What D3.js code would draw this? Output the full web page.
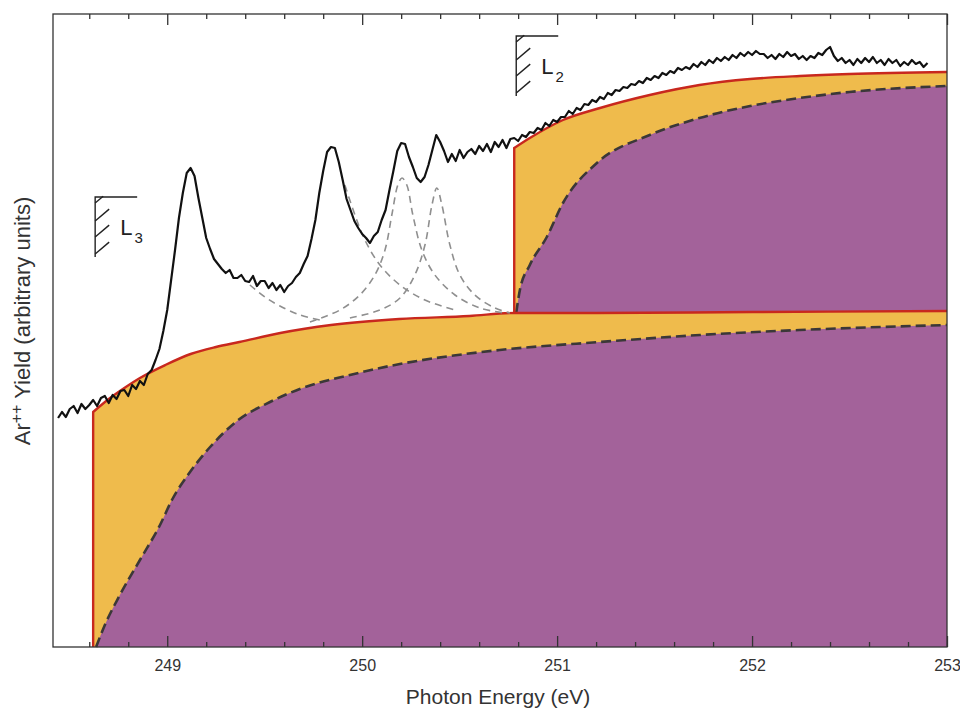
<!DOCTYPE html>
<html>
<head>
<meta charset="utf-8">
<script src="https://cdn.jsdelivr.net/npm/d3@7"></script>
<style>
body { margin: 0; background: #fff; }
svg { display: block; font-family: "Liberation Sans", Arial, sans-serif; }
.axis path { display: none; }
.axis line { stroke: #333; stroke-width: 1.3; }
.axis text { font-family: "Liberation Sans Narrow", "Liberation Sans", sans-serif; font-size: 16px; fill: #333; }
</style>
</head>
<body>
<div id="vis"></div>
<script>
// absorption edges (eV)
const edgeL3 = 248.62, edgeL2 = 250.78;

// measured Ar++ yield, sampled every 0.02 eV from 248.44 eV
const energyStart = 248.44, energyStep = 0.02;
const yieldCounts = [
  229,235,230,238,241,234,243,238,242,247,241,249,251,244,252,248,256,257,251,262,
  258,266,262,273,277,287,298,316,337,367,397,429,454,474,479,471,449,429,409,398,
  388,383,378,374,377,369,369,372,366,365,371,361,366,366,359,364,357,362,355,361,
  364,370,374,383,391,408,427,454,476,495,500,499,485,467,448,437,426,419,413,409,
  404,411,415,427,437,457,476,496,504,503,490,480,469,465,470,482,497,512,505,496,
  485,493,486,497,489,495,498,493,501,496,503,495,505,500,507,499,508,509,506,512,
  510,515,514,519,517,524,521,527,525,530,530,536,533,539,537,543,542,547,545,550,
  548,554,552,557,556,560,559,563,562,566,564,569,567,571,569,574,572,576,574,579,
  577,580,578,583,580,585,582,587,584,589,586,590,587,592,589,594,591,595,592,596,
  593,593,589,592,588,593,590,595,591,593,588,591,587,591,589,594,592,597,600,591,
  586,589,584,587,582,588,584,589,585,590,584,587,582,588,584,587,581,585,582,587,
  583,585,580,584
];

// L3 continuum: total (red) and direct part (dashed, purple)
const l3TotalE = [248.62, 248.70, 248.78, 248.86, 248.99, 249.12, 249.25, 249.37, 249.58, 249.84, 250.19, 250.55, 250.78, 251.2, 252.0, 253.0];
const l3Total  = [235, 248, 259, 269, 282, 293, 300, 305, 314, 322, 328, 331, 334, 334, 335, 336];
const l3DirectE = [248.635, 248.68, 248.757, 248.86, 248.963, 249.024, 249.117, 249.22, 249.358, 249.527, 249.68, 249.937, 250.193, 250.45, 250.706, 251.219, 251.732, 252.245, 253.0];
const l3Direct  = [0, 22, 52, 87, 122, 147, 175, 200, 226, 245, 258, 272, 283, 291, 297, 305, 312, 317, 322];

// L2 continuum stacked on the L3 plateau
const l2TotalE = [250.78, 250.86, 251.03, 251.22, 251.475, 251.73, 251.99, 252.245, 252.5, 253.0];
const l2Total  = [499, 509, 527, 539, 552, 562, 568, 571, 573, 575];
const l2DirectE = [250.79, 250.809, 250.86, 250.947, 251.03, 251.204, 251.475, 251.73, 251.99, 252.245, 252.5, 253.0];
const l2Direct  = [334, 357, 382, 410, 444, 484, 512, 529, 541, 549, 555, 561];

// fitted resonance profiles (grey dashed)
const fitA = [[249.424, 362], [249.501, 350], [249.578, 341], [249.681, 332], [249.783, 327]];
const fitB = [[249.911, 462], [249.963, 432], [250.014, 407], [250.091, 382], [250.194, 362], [250.322, 347], [250.476, 337]];
const fitC = [[249.732, 325], [249.886, 337], [249.988, 352], [250.065, 372], [250.117, 397], [250.152, 432], [250.183, 462], [250.204, 469],
              [250.229, 462], [250.26, 432], [250.306, 397], [250.373, 372], [250.476, 352], [250.604, 339], [250.732, 334]];
const fitD = [[249.937, 329], [250.091, 337], [250.194, 349], [250.27, 372], [250.322, 402], [250.358, 442], [250.383, 459],
              [250.409, 442], [250.45, 402], [250.501, 372], [250.578, 352], [250.681, 339], [250.758, 334]];

const majorTicks = [249, 250, 251, 252, 253];
const minorTicks = [248.6, 248.8, 249.2, 249.4, 249.6, 249.8, 250.2, 250.4, 250.6, 250.8, 251.2, 251.4, 251.6, 251.8, 252.2, 252.4, 252.6, 252.8];

var width = 960, height = 708;
var plot = { left: 53, right: 947, top: 14, bottom: 647 };

var svg = d3.select("#vis")
    .append("svg")
    .attr("width", width)
    .attr("height", height);

var x = d3.scaleLinear().domain([248.414, 253]).range([plot.left, plot.right]);
var y = d3.scaleLinear().domain([0, 633]).range([plot.bottom, plot.top]);

const orange = "#efbb4c", purple = "#a3629a", red = "#c8281e";

function pts(es, vs) { return es.map((e, i) => [e, vs[i]]); }

var area0 = d3.area().x(d => x(d[0])).y0(y(0)).y1(d => y(d[1])).curve(d3.curveMonotoneX);
var line = d3.line().x(d => x(d[0])).y(d => y(d[1])).curve(d3.curveMonotoneX);

// upper (L2) layers first, the L3 layers cover them below the plateau
svg.append("path").attr("d", area0(pts(l2TotalE, l2Total))).attr("fill", orange);
svg.append("path").attr("d", area0(pts(l2DirectE, l2Direct))).attr("fill", purple);
svg.append("path").attr("d", area0(pts(l3TotalE, l3Total))).attr("fill", orange);
svg.append("path").attr("d", area0(pts(l3DirectE, l3Direct))).attr("fill", purple);

// dashed outlines of the direct parts
[pts(l3DirectE, l3Direct), pts(l2DirectE, l2Direct)].forEach(function (d) {
    svg.append("path").attr("d", line(d))
        .attr("fill", "none").attr("stroke", "#3b3838")
        .attr("stroke-width", 2.6).attr("stroke-dasharray", "10,5");
});

// red outlines incl. the vertical edge steps
svg.append("path")
    .attr("d", "M" + x(edgeL3) + "," + y(0) + line(pts(l3TotalE, l3Total)).replace(/^M/, "L"))
    .attr("fill", "none").attr("stroke", red).attr("stroke-width", 2.4);
svg.append("path")
    .attr("d", "M" + x(edgeL2) + "," + y(l3Total[12]) + line(pts(l2TotalE, l2Total)).replace(/^M/, "L"))
    .attr("fill", "none").attr("stroke", red).attr("stroke-width", 2.4);

// resonance fits
var fitLine = d3.line().x(d => x(d[0])).y(d => y(d[1])).curve(d3.curveCatmullRom);
[fitA, fitB, fitC, fitD].forEach(function (d) {
    svg.append("path").attr("d", fitLine(d))
        .attr("fill", "none").attr("stroke", "#8f8f8f")
        .attr("stroke-width", 1.6).attr("stroke-dasharray", "7,5");
});

// measured spectrum
var spectrum = yieldCounts.map((v, i) => [energyStart + i * energyStep, v]);
svg.append("path")
    .attr("d", d3.line().x(d => x(d[0])).y(d => y(d[1]))(spectrum))
    .attr("fill", "none").attr("stroke", "#111").attr("stroke-width", 2.2)
    .attr("stroke-linejoin", "round");

// frame
svg.append("rect")
    .attr("x", plot.left).attr("y", plot.top)
    .attr("width", plot.right - plot.left).attr("height", plot.bottom - plot.top)
    .attr("fill", "none").attr("stroke", "#333").attr("stroke-width", 1.3);

//axes, ticks pointing inward
svg.append("g").attr("class", "axis")
    .attr("transform", "translate(0," + plot.bottom + ")")
    .call(d3.axisBottom(x).tickValues(majorTicks).tickSize(-11).tickPadding(13).tickFormat(d3.format("d")));
svg.append("g").attr("class", "axis")
    .attr("transform", "translate(0," + plot.bottom + ")")
    .call(d3.axisBottom(x).tickValues(minorTicks).tickSize(-5).tickFormat(""));
svg.append("g").attr("class", "axis")
    .attr("transform", "translate(0," + plot.top + ")")
    .call(d3.axisTop(x).tickValues(majorTicks).tickSize(-11).tickFormat(""));
svg.append("g").attr("class", "axis")
    .attr("transform", "translate(0," + plot.top + ")")
    .call(d3.axisTop(x).tickValues(minorTicks).tickSize(-5).tickFormat(""));

// edge markers
function edgeMark(e, topH, name, sub) {
    var x0 = x(e) + 2, y0 = y(topH), h = 60, w = 42;
    var g = svg.append("g").attr("stroke", "#222").attr("stroke-width", 1.4).attr("fill", "none");
    g.append("path").attr("d", "M" + (x0 + w) + "," + y0 + "H" + x0 + "V" + (y0 + h));
    [[6, 8], [24, 14], [40, 14], [57, 14]].forEach(function (k) {
        var yb = y0 + k[0];
        g.append("line").attr("x1", x0).attr("y1", yb)
            .attr("x2", x0 + k[1]).attr("y2", yb - k[1] * 0.85);
    });
    var t = svg.append("text").attr("x", x0 + 25).attr("y", y0 + 38)
        .attr("font-size", 22).attr("fill", "#222").text(name);
    t.append("tspan").attr("dx", 2).attr("dy", 8).attr("font-size", 15).text(sub);
}
edgeMark(edgeL3, 450, "L", "3");
edgeMark(edgeL2, 611, "L", "2");

// axis titles
svg.append("text")
    .attr("x", 498).attr("y", 704)
    .attr("text-anchor", "middle").attr("font-size", 21).attr("fill", "#333")
    .text("Photon Energy (eV)");

var yl = svg.append("text")
    .attr("transform", "translate(30,321) rotate(-90)")
    .attr("text-anchor", "middle").attr("font-size", 22).attr("fill", "#333");
yl.append("tspan").text("Ar");
yl.append("tspan").attr("dy", -8).attr("font-size", 16).text("++");
yl.append("tspan").attr("dy", 8).text(" Yield (arbitrary units)");
</script>
</body>
</html>
